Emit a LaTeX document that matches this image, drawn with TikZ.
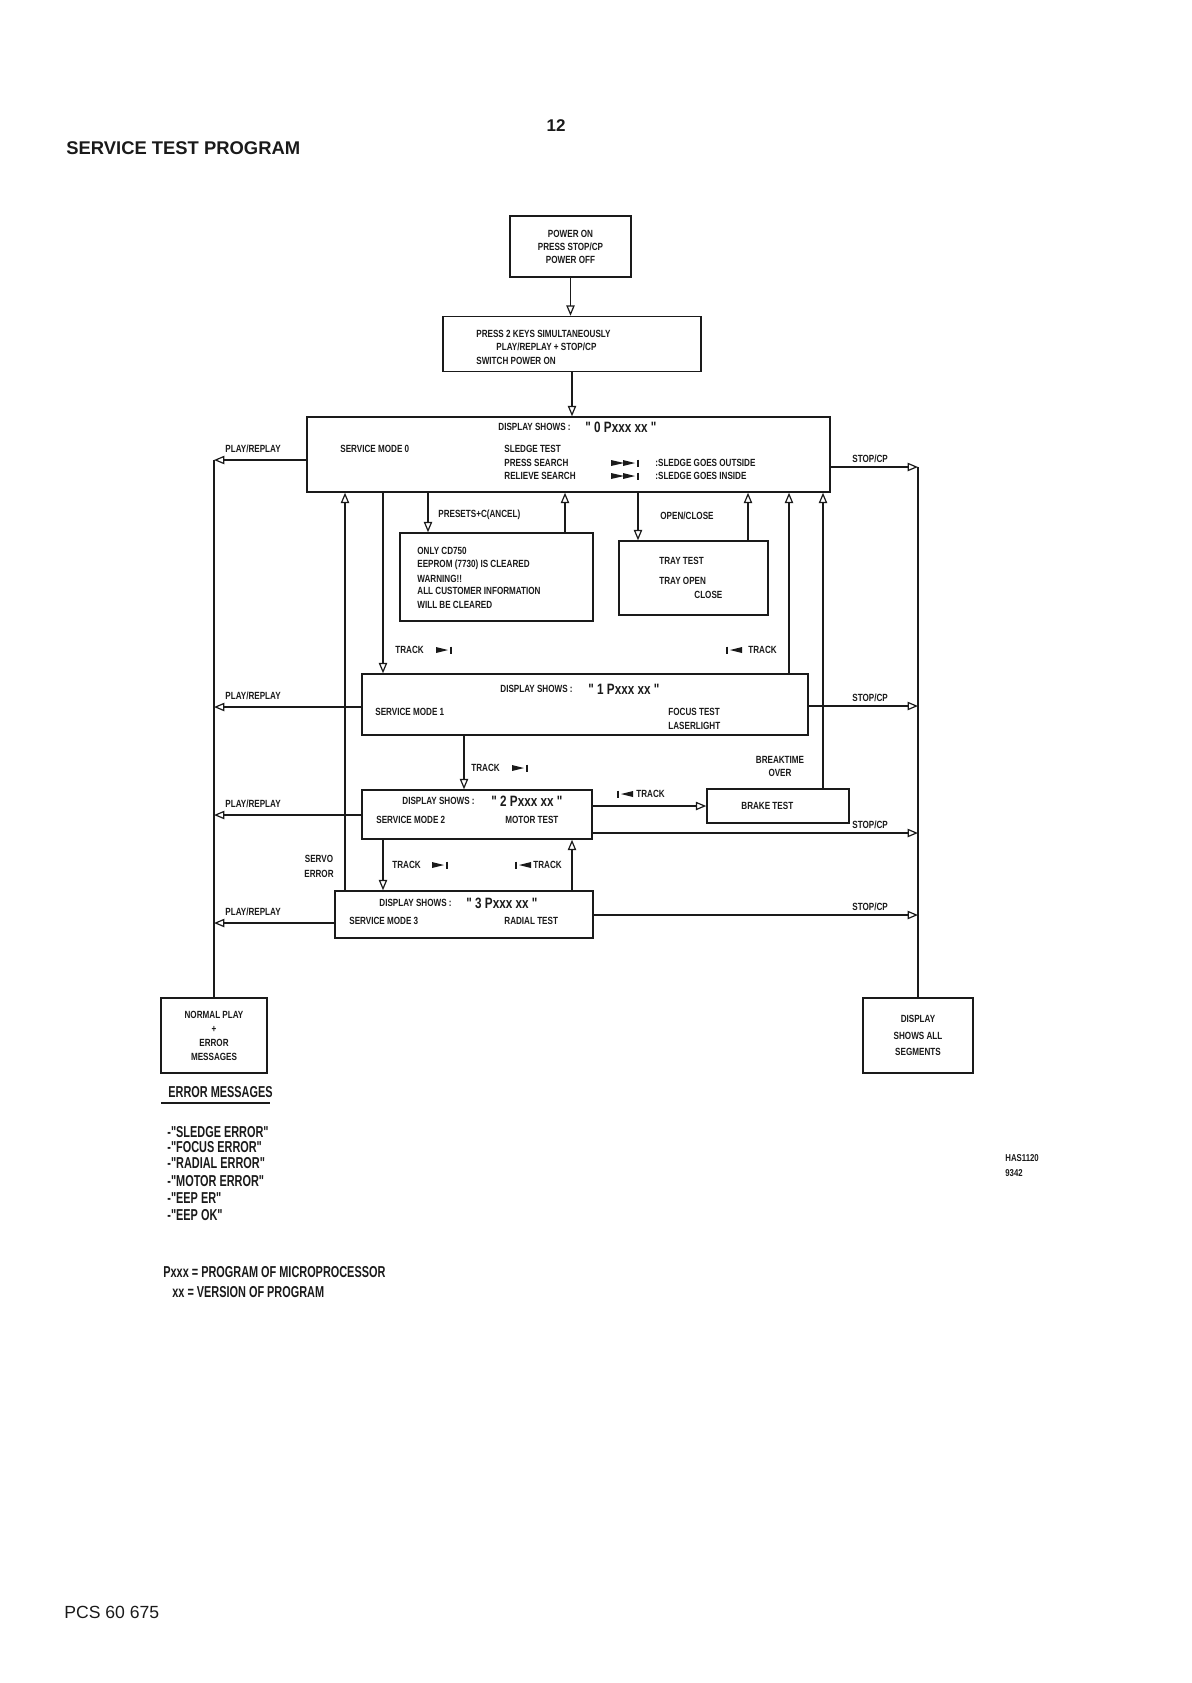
\documentclass[tikz,border=0pt]{standalone}
\usepackage{fontspec}
\setmainfont{Liberation Sans}
\newfontfamily\narrowsf[FakeStretch=0.78]{Liberation Sans}
\newfontfamily\condsf[FakeStretch=0.69]{Liberation Sans}
\usepackage{tikz}
\usetikzlibrary{
arrows.meta,
positioning,
calc
}
\definecolor{InkBlack}{HTML}{1A1A1A}

\begin{document}
\begin{tikzpicture}[x=0.5pt,y=-0.5pt,>={Triangle[open,length=5.2pt,width=4.2pt]},
    every node/.style={inner sep=0pt,text=InkBlack,font=\narrowsf\bfseries\fontsize{5.2}{6.5}\selectfont},
    box/.style args={#1x#2}{draw=InkBlack,line width=0.75pt,minimum width=#1*0.5pt,minimum height=#2*0.5pt,align=center},
    lbl/.style={anchor=west},
    val/.style={anchor=west,font=\narrowsf\bfseries\fontsize{7.5}{9}\selectfont},
    note/.style={anchor=west,font=\condsf\bfseries\fontsize{7.9}{10}\selectfont},
    wire/.style={draw=InkBlack,line width=0.6pt},
    arr/.style={wire,->},
    fwd/.pic={\fill[InkBlack] (-8,-3) -- (4,0) -- (-8,3) -- cycle; \draw[InkBlack,line width=0.8pt] (7,-3.5) -- (7,3.5);},
    back/.pic={\fill[InkBlack] (8,-3) -- (-4,0) -- (8,3) -- cycle; \draw[InkBlack,line width=0.8pt] (-7,-3.5) -- (-7,3.5);},
    ffwd/.pic={\fill[InkBlack] (-14,-3) -- (-1,0) -- (-14,3) -- cycle; \fill[InkBlack] (-2,-3) -- (10,0) -- (-2,3) -- cycle; \draw[InkBlack,line width=0.8pt] (13,-3.5) -- (13,3.5);}]
    \useasboundingbox (0,0) rectangle (1191,1683);

    \node[font=\normalfont\bfseries\fontsize{8.5}{10}\selectfont] (page) at (556,126) {12};
    \node[anchor=west,font=\normalfont\bfseries\fontsize{9.2}{11}\selectfont] (title) at (66,148) {SERVICE TEST PROGRAM};

    % boxes
    \node[box=121x61] (pw) at (570.5,246.5) {POWER ON\\PRESS STOP/CP\\POWER OFF};
    \node[box=258x55] (ks) at (572,344) {};
    \node[box=523x75] (m0) at (568.5,454.5) {};
    \node[box=193x88] (ee) at (496.5,577) {};
    \node[box=149x74] (tr) at (693.5,578) {};
    \node[box=446x61] (m1) at (585,704.5) {};
    \node[box=230x49] (m2) at (477,814.5) {};
    \node[box=142x34] (bt) at (778,806) {};
    \node[box=258x47] (m3) at (464,914.5) {};
    \node[box=106x75,font=\narrowsf\bfseries\fontsize{5.2}{7}\selectfont] (np) at (214,1035.5) {NORMAL PLAY\\+\\ERROR\\MESSAGES};
    \node[box=110x75,font=\narrowsf\bfseries\fontsize{5.2}{8.2}\selectfont] (ds) at (918,1035.5) {DISPLAY\\SHOWS ALL\\SEGMENTS};

    \node[lbl] (ks1) at (476,334) {PRESS 2 KEYS SIMULTANEOUSLY};
    \node[lbl] (ks2) at (496,347) {PLAY/REPLAY + STOP/CP};
    \node[lbl] (ks3) at (476,361) {SWITCH POWER ON};

    \node[lbl] (m0a) at (498,427) {DISPLAY SHOWS :};
    \node[val] (m0b) at (585,427) {" 0 Pxxx xx "};
    \node[lbl] (m0c) at (340,449) {SERVICE MODE 0};
    \node[lbl] (m0d) at (504,449) {SLEDGE TEST};
    \node[lbl] (m0e) at (504,463) {PRESS SEARCH};
    \node[lbl] (m0f) at (504,476) {RELIEVE SEARCH};
    \pic at (625,463) {ffwd};
    \pic at (625,476) {ffwd};
    \node[lbl] (m0g) at (655,463) {:SLEDGE GOES OUTSIDE};
    \node[lbl] (m0h) at (655,476) {:SLEDGE GOES INSIDE};

    \foreach \i/\y/\t in {1/551/ONLY CD750,2/565/EEPROM (7730) IS CLEARED,3/579/WARNING!!,4/591/ALL CUSTOMER INFORMATION,5/605/WILL BE CLEARED}
        \node[lbl] (ee\i) at (417,\y) {\t};
    \node[lbl] (tr1) at (659,561) {TRAY TEST};
    \node[lbl] (tr2) at (659,581) {TRAY OPEN};
    \node[lbl] (tr3) at (694,595) {CLOSE};
    \node[lbl] (psc) at (438,515) {PRESETS+C(ANCEL)};
    \node[lbl] (opc) at (660,516) {OPEN/CLOSE};

    \node[lbl] (m1a) at (500,689) {DISPLAY SHOWS :};
    \node[val] (m1b) at (588,689) {" 1 Pxxx xx "};
    \node[lbl] (m1c) at (375,712) {SERVICE MODE 1};
    \node[lbl] (m1d) at (668,712) {FOCUS TEST};
    \node[lbl] (m1e) at (668,726) {LASERLIGHT};

    \node[lbl] (m2a) at (402,801) {DISPLAY SHOWS :};
    \node[val] (m2b) at (491,801) {" 2 Pxxx xx "};
    \node[lbl] (m2c) at (376,820) {SERVICE MODE 2};
    \node[lbl] (m2d) at (505,820) {MOTOR TEST};
    \node[lbl] (bt1) at (741,806) {BRAKE TEST};
    \node[align=center] (bko) at (780,766) {BREAKTIME\\OVER};

    \node[lbl] (m3a) at (379,903) {DISPLAY SHOWS :};
    \node[val] (m3b) at (466,903) {" 3 Pxxx xx "};
    \node[lbl] (m3c) at (349,921) {SERVICE MODE 3};
    \node[lbl] (m3d) at (504,921) {RADIAL TEST};
    \node[align=center,font=\narrowsf\bfseries\fontsize{5.2}{7.5}\selectfont] (sve) at (319,866) {SERVO\\ERROR};

    \node[lbl] (tk1) at (395,650) {TRACK}; \pic at (444,650) {fwd};
    \pic at (734,650) {back}; \node[lbl] (tk2) at (748,650) {TRACK};
    \node[lbl] (tk3) at (471,768) {TRACK}; \pic at (520,768) {fwd};
    \pic at (625,794) {back}; \node[lbl] (tk4) at (636,794) {TRACK};
    \node[lbl] (tk5) at (392,865) {TRACK}; \pic at (440,865) {fwd};
    \pic at (523,865) {back}; \node[lbl] (tk6) at (533,865) {TRACK};

    % connectors
    \draw[arr] (pw.south) -- (pw.south |- ks.north);
    \draw[arr] (ks.south) -- (ks.south |- m0.north);

    \foreach \n/\x in {A/345,B/383,C/428,D/565,E/638,F/748,G/789,H/823,I/464,J/572}
        \coordinate (ln\n) at (\x,0);
    \foreach \a/\b/\l in {m3.north/m0.south/A,m0.south/m1.north/B,m2.south/m3.north/B,m0.south/ee.north/C,ee.north/m0.south/D,m0.south/tr.north/E,tr.north/m0.south/F,m1.north/m0.south/G,bt.north/m0.south/H,m1.south/m2.north/I,m3.north/m2.south/J}
        \draw[arr] (\a -| ln\l) -- (\b -| ln\l);
    \draw[arr] (bt.west -| m2.east) -- (bt.west);

    \foreach \m/\offpl/\offst in {0/5.5/12.5,1/2.5/1.5,2/0.5/18.5,3/8.5/0.5} {
        \coordinate (pl\m) at ($(m\m.west)+(0,\offpl)$);
        \coordinate (st\m) at ($(m\m.east)+(0,\offst)$);
        \draw[arr] (pl\m) -- (pl\m -| np.north);
        \draw[arr] (st\m) -- (st\m -| ds.north);
        \node[lbl] (plb\m) at ($(pl\m -| np.north)+(11,-11)$) {PLAY/REPLAY};
        \node[lbl] (slb\m) at ($(st\m -| ds.north)+(-66,-8)$) {STOP/CP};
    }
    \draw[wire] (pl0 -| np.north) -- (np.north);
    \draw[wire] (st0 -| ds.north) -- (ds.north);

    % notes
    \node[note] (emh) at (168,1092) {ERROR MESSAGES};
    \draw[InkBlack,line width=0.8pt] ($(emh.south west)+(-7,5)$) -- ($(emh.south east)+(-3,5)$);
    \foreach \i/\y/\t in {1/1132/-"SLEDGE ERROR",2/1147/-"FOCUS ERROR",3/1163/-"RADIAL ERROR",4/1181/-"MOTOR ERROR",5/1198/-"EEP ER",6/1215/-"EEP OK"}
        \node[note] (em\i) at (167,\y) {\t};
    \node[note] (px1) at (163,1272) {Pxxx = PROGRAM OF MICROPROCESSOR};
    \node[note] (px2) at (172,1292) {xx = VERSION OF PROGRAM};

    \node[lbl,font=\narrowsf\bfseries\fontsize{5}{6}\selectfont] (has) at (1005,1158) {HAS1120};
    \node[lbl,font=\narrowsf\bfseries\fontsize{5}{6}\selectfont] (num) at (1005,1173) {9342};
    \node[anchor=west,font=\normalfont\fontsize{8.8}{10}\selectfont] (pcs) at (64,1612) {PCS 60 675};
\end{tikzpicture}
\end{document}
